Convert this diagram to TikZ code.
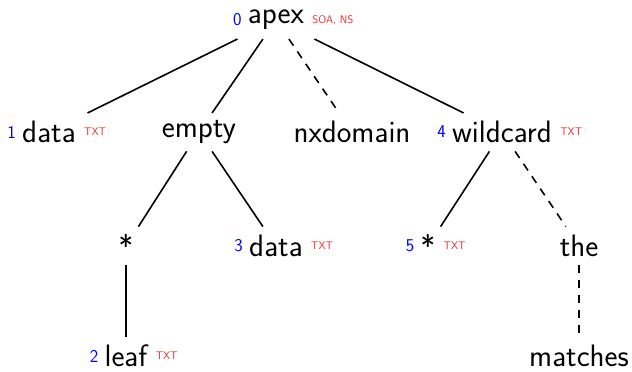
\documentclass[tikz,border=0pt]{standalone}
\usepackage{fontspec}
\usetikzlibrary{calc}
\definecolor{idblue}{RGB}{0,0,255}
\definecolor{rrred}{RGB}{240,40,40}
\tikzset{
  domnode/.style={font=\fontsize{31}{33}\selectfont\sffamily, inner sep=0pt},
  idlab/.style={font=\fontsize{18}{20}\selectfont\sffamily, text=idblue, inner sep=0pt, xshift=-6pt},
  rrlab/.style={font=\fontsize{11}{13}\selectfont\sffamily\addfontfeature{LetterSpace=12}, text=rrred, inner sep=0pt, xshift=8pt},
  edge/.style={line width=1.6pt},
  synth/.style={edge, dash pattern=on 8pt off 7pt}
}
% edge between two tree nodes, trimmed to leave a gap around each label
\newcommand\treeedge[3][]{\draw[edge,#1] ($(#2)!0.17!(#3)$) -- ($(#2)!0.83!(#3)$);}
\begin{document}
\begin{tikzpicture}[x=1pt,y=-1pt]
\useasboundingbox (0,0) rectangle (632,372);

% level 0
\node[domnode, label={[idlab]left:0}, label={[rrlab]right:{SOA, NS}}] (apex) at (276,20) {apex};

% level 1
\node[domnode, label={[idlab]left:1}, label={[rrlab]right:TXT}] (data1) at (49,132) {data};
\node[domnode] (empty) at (199,132) {empty};
\node[domnode] (nx) at (352,132) {nxdomain};
\node[domnode, label={[idlab]left:4}, label={[rrlab]right:TXT}] (wild) at (502,132) {wildcard};

% level 2
\node[domnode] (star) at (126,246) {*};
\node[domnode, label={[idlab]left:3}, label={[rrlab]right:TXT}] (data3) at (276,246) {data};
\node[domnode, label={[idlab]left:5}, label={[rrlab]right:TXT}] (star5) at (428,246) {*};
\node[domnode] (the) at (579,246) {the};

% level 3
\node[domnode, label={[idlab]left:2}, label={[rrlab]right:TXT}] (leaf) at (126,356) {leaf};
\node[domnode] (matches) at (579,356) {matches};

% connectors
\treeedge{apex}{data1}
\treeedge{apex}{empty}
\treeedge[synth]{apex}{nx}
\treeedge{apex}{wild}
\treeedge{empty}{star}
\treeedge{empty}{data3}
\treeedge{wild}{star5}
\treeedge[synth]{wild}{the}
\treeedge{star}{leaf}
\treeedge[synth]{the}{matches}
\end{tikzpicture}
\end{document}
